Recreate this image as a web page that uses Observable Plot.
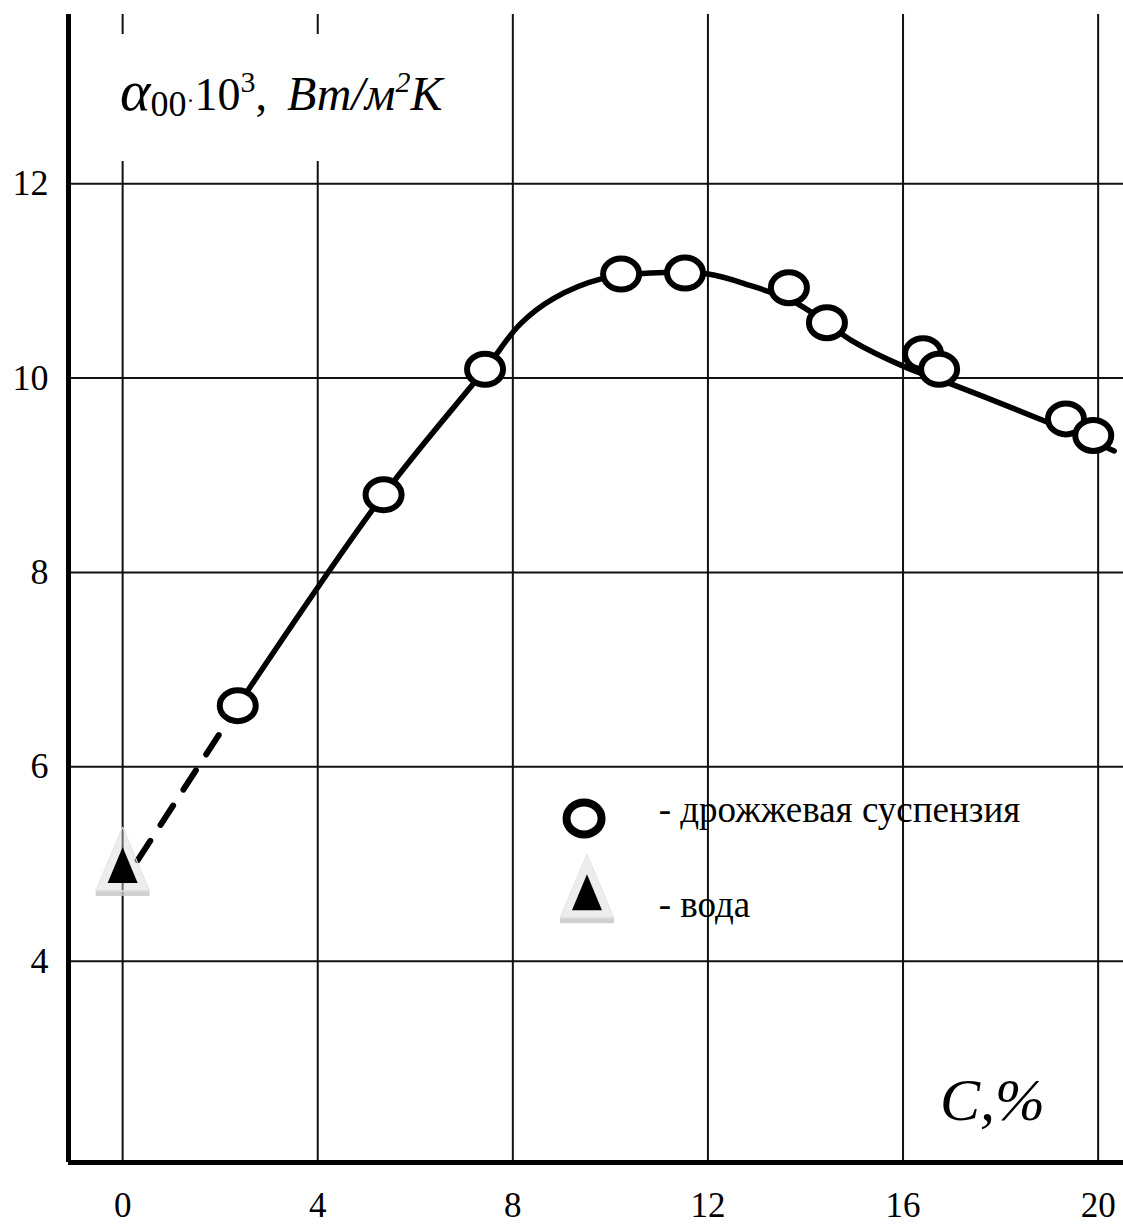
<!DOCTYPE html>
<html><head><meta charset="utf-8">
<script src="https://cdn.jsdelivr.net/npm/d3@7"></script>
<script src="https://cdn.jsdelivr.net/npm/@observablehq/plot@0.6"></script>
<style>body{margin:0;background:#fff} #chart{width:1123px;height:1226px}</style>
</head><body><div id="chart"></div>
<script>
// ---- data ----
const xTicks = [0, 4, 8, 12, 16, 20];
const yTicks = [4, 6, 8, 10, 12];
const xDomain = [-1.11, 20.52];
const yDomain = [1.93, 13.74];
// yeast suspension measurements (C, %  /  alpha*10^3)
const suspC = [2.36, 5.35, 7.43, 10.22, 11.53, 13.66, 14.44, 16.41, 16.74, 19.34, 19.90];
const suspA = [6.63, 8.80, 10.09, 11.07, 11.08, 10.93, 10.57, 10.25, 10.09, 9.58, 9.41];
// water
const waterC = [0];
const waterA = [4.95];
// fitted curve through the suspension points
const curveC = [2.36, 5.35, 7.43, 8.16, 8.84, 9.81, 10.83, 12.0, 12.88, 13.70, 14.38, 14.93, 16.06, 16.98, 18.89, 20.33];
const curveA = [6.63, 8.80, 10.09, 10.56, 10.82, 11.02, 11.08, 11.07, 10.95, 10.80, 10.59, 10.39, 10.11, 9.94, 9.56, 9.25];
// dashed extrapolation to water
const dashC = [0.31, 2.36];
const dashA = [5.04, 6.63];
// legend
const legendLabels = ["- дрожжевая суспензия", "- вода"];
const legendSymC = [9.46, 9.52];
const legendSymA = [5.47, 4.67];
const legendTextC = [10.99, 10.99];
const legendTextA = [5.55, 4.58];
const yLabelParts = ["α", "00", "·", "10", "3", ",", "Вт/м", "2", "К"];
const xLabel = "C,%";

// ---- tables ----
const susp = suspC.map((c, i) => ({c, a: suspA[i]}));
const water = waterC.map((c, i) => ({c, a: waterA[i]}));
const curve = curveC.map((c, i) => ({c, a: curveA[i]}));
const dash = dashC.map((c, i) => ({c, a: dashA[i]}));
const legend = legendLabels.map((t, i) => ({t, sc: legendSymC[i], sa: legendSymA[i], tc: legendTextC[i], ta: legendTextA[i]}));

// ---- custom symbols ----
function ellipse(rx, ry) {
  const k = 0.5522847498;
  return {draw(ctx) {
    ctx.moveTo(rx, 0);
    ctx.bezierCurveTo(rx, ry * k, rx * k, ry, 0, ry);
    ctx.bezierCurveTo(-rx * k, ry, -rx, ry * k, -rx, 0);
    ctx.bezierCurveTo(-rx, -ry * k, -rx * k, -ry, 0, -ry);
    ctx.bezierCurveTo(rx * k, -ry, rx, -ry * k, rx, 0);
    ctx.closePath();
  }};
}
function tri(up, down, w) {
  return {draw(ctx) { ctx.moveTo(0, -up); ctx.lineTo(w, down); ctx.lineTo(-w, down); ctx.closePath(); }};
}
function bar(y0, y1, w) {
  return {draw(ctx) { ctx.moveTo(-w, y0); ctx.lineTo(w, y0); ctx.lineTo(w, y1); ctx.lineTo(-w, y1); ctx.closePath(); }};
}
const outerTri = tri(42, 22, 27);
const innerTri = tri(22, 14, 15);
const shadow = bar(21, 27, 27);

function triangleMarks(data, x, y) {
  return [
    Plot.dot(data, {x, y, symbol: shadow, fill: "#c4c4c4", fillOpacity: 0.8, stroke: "none"}),
    Plot.dot(data, {x, y, symbol: outerTri, fill: "#d6d6d6", fillOpacity: 0.45, stroke: "#e4e4e4", strokeWidth: 1}),
    Plot.dot(data, {x, y, symbol: innerTri, fill: "black", stroke: "none"})
  ];
}

const serif = "'Liberation Serif', 'Times New Roman', serif";

const plot = Plot.plot({
  width: 1123,
  height: 1226,
  marginLeft: 68,
  marginRight: 0,
  marginTop: 14,
  marginBottom: 64,
  style: {fontFamily: serif, fontSize: "36px", color: "black", background: "white"},
  x: {domain: xDomain, ticks: xTicks, label: null},
  y: {domain: yDomain, ticks: yTicks, label: null},
  marks: [
    Plot.gridX(xTicks, {stroke: "#111", strokeOpacity: 1, strokeWidth: 2}),
    Plot.gridY(yTicks, {stroke: "#111", strokeOpacity: 1, strokeWidth: 2}),
    Plot.axisX(xTicks, {tickSize: 0, tickPadding: 30, fontSize: 35, tickFormat: d => String(d), label: null}),
    Plot.axisY(yTicks, {tickSize: 0, tickPadding: 20, fontSize: 36, tickFormat: d => String(d), label: null}),
    Plot.ruleX([xDomain[0]], {stroke: "black", strokeWidth: 5}),
    Plot.ruleY([yDomain[0]], {stroke: "black", strokeWidth: 5}),
    Plot.line(dash, {x: "c", y: "a", stroke: "black", strokeWidth: 6, strokeDasharray: "23,19"}),
    Plot.line(curve, {x: "c", y: "a", stroke: "black", strokeWidth: 5.5, curve: "catmull-rom"}),
    ...triangleMarks(water, "c", "a"),
    Plot.dot(susp, {x: "c", y: "a", symbol: ellipse(18, 15.5), fill: "white", stroke: "black", strokeWidth: 6}),
    // legend
    Plot.dot(legend.slice(0, 1), {x: "sc", y: "sa", symbol: ellipse(17.5, 16), fill: "white", stroke: "black", strokeWidth: 8}),
    ...triangleMarks(legend.slice(1), "sc", "sa"),
    Plot.text(legend, {x: "tc", y: "ta", text: "t", textAnchor: "start", fontSize: 37, fill: "black"})
  ]
});

document.getElementById("chart").appendChild(plot);

// ---- y-axis title with sub/superscripts and x-axis title ----
const svg = d3.select(plot);
svg.append("rect").attr("x", 72).attr("y", 34).attr("width", 420).attr("height", 127).attr("fill", "white");
const t = svg.append("text").attr("x", 120).attr("y", 110).attr("fill", "black")
  .attr("text-anchor", "start").attr("font-family", serif);
t.append("tspan").attr("font-style", "italic").attr("font-size", 58).text(yLabelParts[0]);
t.append("tspan").attr("font-size", 36).attr("dy", 6).text(yLabelParts[1]);
t.append("tspan").attr("font-size", 24).attr("dy", -8).text(yLabelParts[2]);
t.append("tspan").attr("font-size", 46).attr("dy", 2).text(yLabelParts[3]);
t.append("tspan").attr("font-size", 30).attr("dy", -18).text(yLabelParts[4]);
t.append("tspan").attr("font-size", 46).attr("dy", 18).text(yLabelParts[5]);
t.append("tspan").attr("font-size", 48).attr("font-style", "italic").attr("dx", 20).text(yLabelParts[6]);
t.append("tspan").attr("font-size", 30).attr("font-style", "italic").attr("dy", -18).text(yLabelParts[7]);
t.append("tspan").attr("font-size", 48).attr("font-style", "italic").attr("dy", 18).text(yLabelParts[8]);

svg.append("text").attr("x", 940).attr("y", 1120).attr("fill", "black")
  .attr("text-anchor", "start").attr("font-family", serif)
  .attr("font-style", "italic").attr("font-size", 60).text(xLabel);
</script>
</body></html>
